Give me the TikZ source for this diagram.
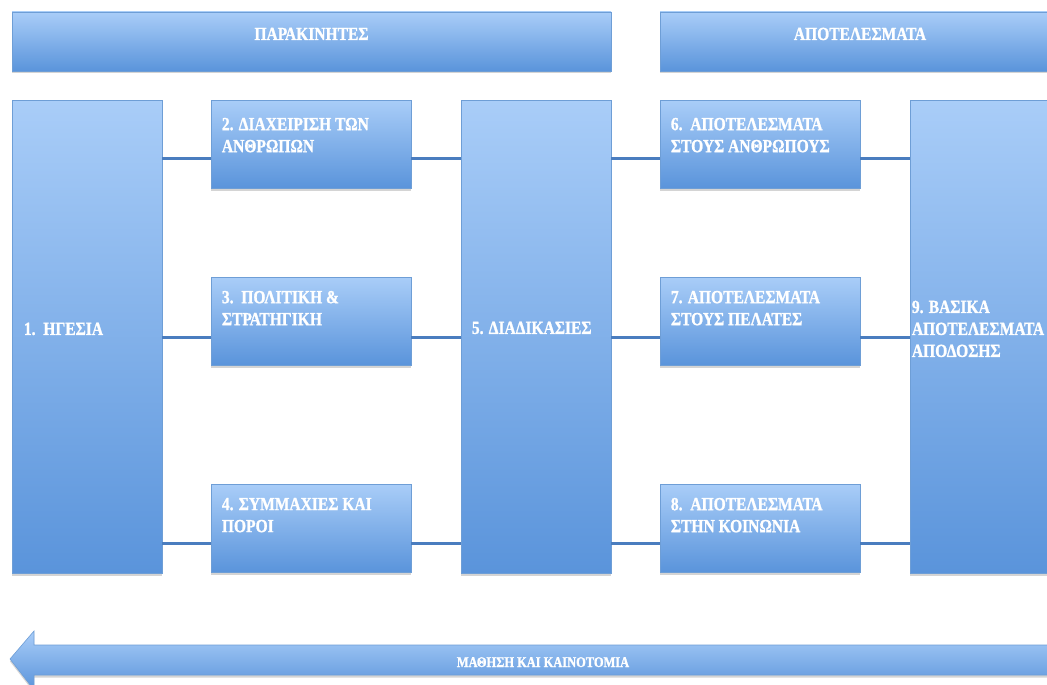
\documentclass[tikz,border=0pt]{standalone}
\usepackage{fontspec}
\newfontfamily\boxfont{Liberation Serif Bold}[FakeStretch=0.84, FakeBold=1.2]
\usetikzlibrary{shadows,calc}
\definecolor{boxtop}{HTML}{A9CDF8}
\definecolor{boxbot}{HTML}{5A94DB}
\definecolor{boxedge}{HTML}{6E9ED6}
\definecolor{linkcol}{HTML}{4A7DBF}
\tikzset{
  panel/.style={rectangle, inner sep=0pt, draw=boxedge, line width=0.6pt,
    top color=boxtop, bottom color=boxbot,
    drop shadow={shadow xshift=0pt, shadow yshift=-2.5pt, opacity=0.28, fill=black!60}},
  label/.style={inner sep=0pt, align=left, text=white, font=\boxfont\fontsize{18.5}{22}\selectfont},
  banner/.style={inner sep=0pt, text=white, font=\boxfont\fontsize{18.5}{22}\selectfont},
  link/.style={draw=linkcol, line width=3pt}
}
\begin{document}
\begin{tikzpicture}[x=1pt,y=-1pt]
\useasboundingbox (0,0) rectangle (1047,685);
\fill[white] (0,0) rectangle (1047,685);

% header bars
\node[panel, minimum width=599pt, minimum height=59pt] (hdrA) at (311.5,41.5) {};
\node[panel, minimum width=400pt, minimum height=59pt] (hdrB) at (860,41.5) {};
\node[banner, anchor=base] (hdrAt) at (311.5,40) {ΠΑΡΑΚΙΝΗΤΕΣ};
\node[banner, anchor=base] (hdrBt) at (860,40) {ΑΠΟΤΕΛΕΣΜΑΤΑ};

% row heights of the connectors
\coordinate (r1) at (0,158);
\coordinate (r2) at (0,337);
\coordinate (r3) at (0,543);

% tall columns
\node[panel, minimum width=150pt, minimum height=473pt] (b1) at (87,336.5) {};
\node[panel, minimum width=150pt, minimum height=473pt] (b5) at (536,336.5) {};
\node[panel, minimum width=150pt, minimum height=473pt] (b9) at (985,336.5) {};

% small boxes
\node[panel, minimum width=200pt, minimum height=88pt] (b2) at (311,144) {};
\node[panel, minimum width=200pt, minimum height=88pt] (b3) at (311,321) {};
\node[panel, minimum width=200pt, minimum height=88pt] (b4) at (311,528) {};
\node[panel, minimum width=200pt, minimum height=88pt] (b6) at (760,144) {};
\node[panel, minimum width=200pt, minimum height=88pt] (b7) at (760,321) {};
\node[panel, minimum width=200pt, minimum height=88pt] (b8) at (760,528) {};

% connectors
\draw[link] (b1.east |- r1) -- (b2.west |- r1);
\draw[link] (b2.east |- r1) -- (b5.west |- r1);
\draw[link] (b1.east |- r2) -- (b3.west |- r2);
\draw[link] (b3.east |- r2) -- (b5.west |- r2);
\draw[link] (b1.east |- r3) -- (b4.west |- r3);
\draw[link] (b4.east |- r3) -- (b5.west |- r3);
\draw[link] (b5.east |- r1) -- (b6.west |- r1);
\draw[link] (b6.east |- r1) -- (b9.west |- r1);
\draw[link] (b5.east |- r2) -- (b7.west |- r2);
\draw[link] (b7.east |- r2) -- (b9.west |- r2);
\draw[link] (b5.east |- r3) -- (b8.west |- r3);
\draw[link] (b8.east |- r3) -- (b9.west |- r3);

% texts
\node[label, anchor=north west] (t1) at ($(b1.west)+(12,-14)$) {1.\ \ ΗΓΕΣΙΑ};
\node[label, anchor=north west] (t5) at ($(b5.west)+(11,-15)$) {5. ΔΙΑΔΙΚΑΣΙΕΣ};
\node[label, anchor=north west] (t9) at ($(b9.west)+(2,-36)$) {9. ΒΑΣΙΚΑ\\ΑΠΟΤΕΛΕΣΜΑΤΑ\\ΑΠΟΔΟΣΗΣ};
\node[label, anchor=north west] (t2) at ($(b2.north west)+(11,18)$) {2. ΔΙΑΧΕΙΡΙΣΗ ΤΩΝ\\ΑΝΘΡΩΠΩΝ};
\node[label, anchor=north west] (t3) at ($(b3.north west)+(11,14)$) {3.\ \ ΠΟΛΙΤΙΚΗ \&\\ΣΤΡΑΤΗΓΙΚΗ};
\node[label, anchor=north west] (t4) at ($(b4.north west)+(11,14)$) {4. ΣΥΜΜΑΧΙΕΣ ΚΑΙ\\ΠΟΡΟΙ};
\node[label, anchor=north west] (t6) at ($(b6.north west)+(11,18)$) {6.\ \ ΑΠΟΤΕΛΕΣΜΑΤΑ\\ΣΤΟΥΣ ΑΝΘΡΩΠΟΥΣ};
\node[label, anchor=north west] (t7) at ($(b7.north west)+(11,14)$) {7. ΑΠΟΤΕΛΕΣΜΑΤΑ\\ΣΤΟΥΣ ΠΕΛΑΤΕΣ};
\node[label, anchor=north west] (t8) at ($(b8.north west)+(11,14)$) {8.\ \ ΑΠΟΤΕΛΕΣΜΑΤΑ\\ΣΤΗΝ ΚΟΙΝΩΝΙΑ};

% learning arrow along the bottom
\begin{scope}
\clip (0,0) rectangle (1047,685);
\path[draw=boxedge, line width=0.6pt, top color=boxtop, bottom color=boxbot,
  drop shadow={shadow xshift=0pt, shadow yshift=-2.5pt, opacity=0.28, fill=black!60}]
  (10,659) -- (34,631) -- (34,645) -- (1060,645) -- (1060,675) -- (34,675) -- (34,690) -- cycle;
\end{scope}
\node[inner sep=0pt, text=white, font=\boxfont\fontsize{14.8}{17}\selectfont, anchor=base] (learn) at (543,667) {ΜΑΘΗΣΗ ΚΑΙ ΚΑΙΝΟΤΟΜΙΑ};
\end{tikzpicture}
\end{document}
